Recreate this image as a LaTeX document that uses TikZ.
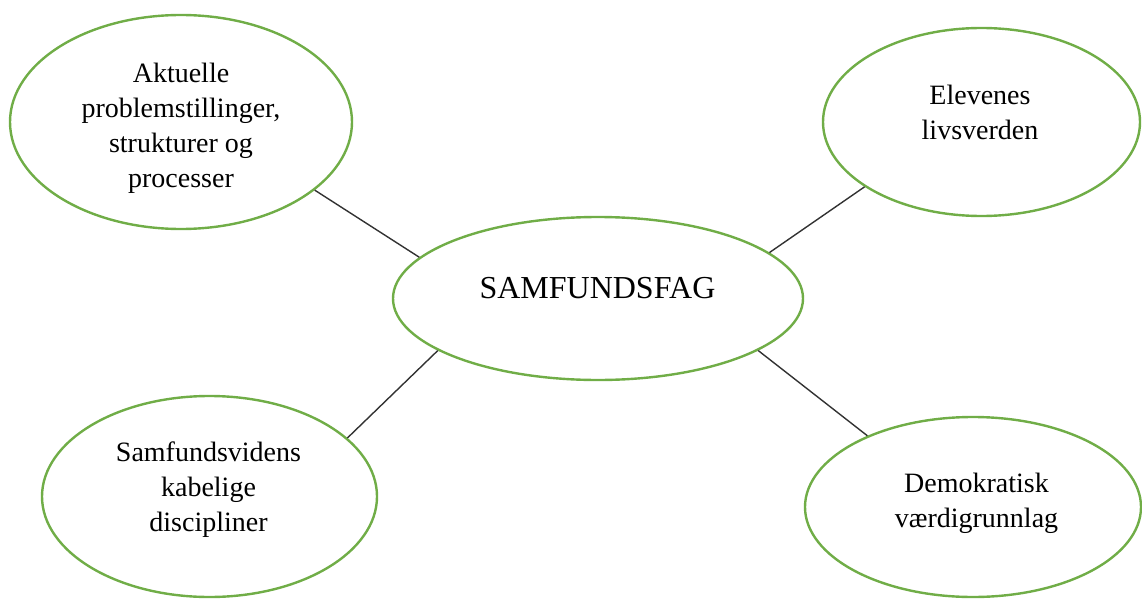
\documentclass[tikz,border=0pt]{standalone}
\usepackage{fontspec}
\setmainfont{Liberation Serif}
\usetikzlibrary{shapes.geometric}
\definecolor{ogreen}{RGB}{112,173,71}
\definecolor{lgray}{RGB}{50,50,50}
\tikzset{
  bubble/.style={ellipse, draw=ogreen, line width=2.4pt, inner sep=0pt, fill=none},
  lbl/.style={align=center, inner sep=0pt, font=\fontsize{28}{35}\selectfont},
  conn/.style={draw=lgray, line width=1.4pt}
}
\begin{document}
\begin{tikzpicture}[x=1pt,y=-1pt]
\useasboundingbox (0,0) rectangle (1142,599);
\node[bubble, minimum width=342pt, minimum height=214pt] (tl) at (181,122) {};
\node[bubble, minimum width=317pt, minimum height=188pt] (tr) at (981.5,122) {};
\node[bubble, minimum width=410pt, minimum height=163pt] (c) at (598,298.5) {};
\node[bubble, minimum width=335pt, minimum height=201pt] (bl) at (209.5,496.5) {};
\node[bubble, minimum width=336pt, minimum height=180pt] (br) at (973,507) {};

\node[lbl] (tlt) at (181,128) {Aktuelle\\problemstillinger,\\strukturer og\\processer};
\node[lbl] (trt) at (980,112) {Elevenes\\livsverden};
\node[inner sep=0pt, font=\fontsize{32}{38}\selectfont] (ct) at (597.5,288.5) {SAMFUNDSFAG};
\node[lbl] (blt) at (208.5,490) {Samfundsvidens\\kabelige\\discipliner};
\node[lbl] (brt) at (976.5,503) {Demokratisk\\værdigrunnlag};

\draw[conn] (tl.-27.4) -- (c.167.3);
\draw[conn] (tr.209.8) -- (c.15.6);
\draw[conn] (bl.23.9) -- (c.198.9);
\draw[conn] (br.146.3) -- (c.-18.4);
\end{tikzpicture}
\end{document}
